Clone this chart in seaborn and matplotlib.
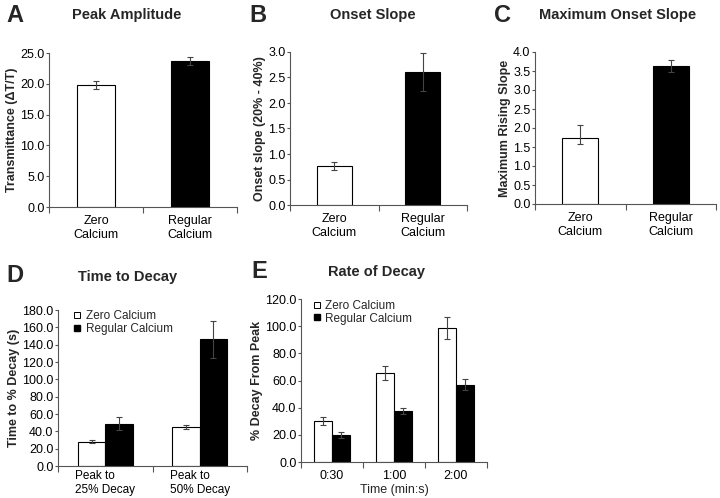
import matplotlib
matplotlib.use("Agg")
import matplotlib.pyplot as plt
from matplotlib.lines import Line2D
from matplotlib.ticker import FormatStrFormatter, FixedLocator
import numpy as np
import pandas as pd
import seaborn as sns

# --- data ---
groups = ["Zero\nCalcium", "Regular\nCalcium"]
series = ["Zero Calcium", "Regular Calcium"]

peak_amp = [19.8, 23.7]
peak_amp_err = [0.7, 0.7]

onset_slope = [0.76, 2.61]
onset_slope_err = [0.08, 0.38]

max_slope = [1.73, 3.63]
max_slope_err_lo = [0.16, 0.15]
max_slope_err_hi = [0.36, 0.15]

decay_cats = ["Peak to\n25% Decay", "Peak to\n50% Decay"]
decay_zero = [28.0, 45.0]
decay_zero_err = [1.8, 2.8]
decay_reg = [48.5, 146.0]
decay_reg_err = [7.5, 21.0]

rate_cats = ["0:30", "1:00", "2:00"]
rate_zero = [30.0, 65.5, 98.5]
rate_zero_err = [3.0, 5.0, 8.0]
rate_reg = [20.0, 37.5, 57.0]
rate_reg_err = [2.0, 2.5, 4.0]

sns.set_style("ticks")
plt.rcParams["font.family"] = ["Liberation Sans", "DejaVu Sans"]
plt.rcParams["axes.edgecolor"] = "#555555"
plt.rcParams["xtick.color"] = "#555555"
plt.rcParams["ytick.color"] = "#555555"
plt.rcParams["xtick.labelcolor"] = "black"
plt.rcParams["ytick.labelcolor"] = "black"

fig = plt.figure(figsize=(7.2, 4.98), dpi=100)
W, H = 720.0, 498.0


def make_ax(x0, x1, ytop, ybot):
    return fig.add_axes([x0 / W, 1 - ybot / H, (x1 - x0) / W, (ybot - ytop) / H])


def style(ax, ncat, ymax, step, ylabel):
    ax.set_xlim(-0.5, ncat - 0.5)
    ax.set_ylim(0, ymax)
    ax.set_yticks(np.arange(0, ymax + step / 2, step))
    ax.yaxis.set_major_formatter(FormatStrFormatter("%.1f"))
    ax.xaxis.set_minor_locator(FixedLocator(np.arange(-0.5, ncat, 1.0)))
    ax.tick_params(axis="x", which="major", length=0, labelsize=9, pad=6)
    ax.tick_params(axis="x", which="minor", length=4, width=0.8)
    ax.tick_params(axis="y", length=2.5, width=0.8, labelsize=9, pad=0.8)
    ax.set_ylabel(ylabel, fontsize=9, fontweight="bold", labelpad=1.5)
    ax.set_xlabel("")
    for s in ("top", "right"):
        ax.spines[s].set_visible(False)
    for s in ("left", "bottom"):
        ax.spines[s].set_linewidth(0.8)


def add_err(ax, container, lo, hi):
    xs = [b.get_x() + b.get_width() / 2 for b in container]
    ys = [b.get_height() for b in container]
    ax.errorbar(xs, ys, yerr=[lo, hi], fmt="none", ecolor="#444444",
                elinewidth=0.8, capsize=2.5, capthick=0.8, zorder=3)


def single(ax, vals, lo, hi):
    df = pd.DataFrame({"group": groups, "value": vals})
    sns.barplot(data=df, x="group", y="value", hue="group",
                palette=["white", "black"], edgecolor="black", linewidth=0.8,
                width=0.4, errorbar=None, legend=False, ax=ax)
    for c, l, h in zip(ax.containers, lo, hi):
        add_err(ax, c, [l], [h])


def grouped(ax, cats, zero, zero_err, reg, reg_err, anchor):
    df = pd.DataFrame({
        "cat": cats * 2,
        "series": [series[0]] * len(cats) + [series[1]] * len(cats),
        "value": zero + reg,
    })
    sns.barplot(data=df, x="cat", y="value", hue="series",
                palette={series[0]: "white", series[1]: "black"},
                edgecolor="black", linewidth=0.8, width=0.58, dodge=True,
                errorbar=None, legend=False, ax=ax)
    add_err(ax, ax.containers[0], zero_err, zero_err)
    add_err(ax, ax.containers[1], reg_err, reg_err)
    handles = [
        Line2D([], [], ls="", marker="s", markersize=4, markerfacecolor="white",
               markeredgecolor="black", markeredgewidth=0.7, label=series[0]),
        Line2D([], [], ls="", marker="s", markersize=4, markerfacecolor="black",
               markeredgecolor="black", label=series[1]),
    ]
    ax.legend(handles=handles, loc="upper left", bbox_to_anchor=anchor,
              frameon=False, fontsize=8.5, handlelength=0.6, handletextpad=0.4,
              labelspacing=0.05, borderpad=0.2)


# A
axA = make_ax(49, 237, 53, 207)
single(axA, peak_amp, peak_amp_err, peak_amp_err)
style(axA, 2, 25, 5, "Transmittance (\u0394T/T)")

# B
axB = make_ax(290, 467, 52, 205)
single(axB, onset_slope, onset_slope_err, onset_slope_err)
style(axB, 2, 3.0, 0.5, "Onset slope (20% - 40%)")

# C
axC = make_ax(535, 716, 52, 204)
single(axC, max_slope, max_slope_err_lo, max_slope_err_hi)
style(axC, 2, 4.0, 0.5, "Maximum Rising Slope")

# D
axD = make_ax(58, 247, 310, 466)
grouped(axD, decay_cats, decay_zero, decay_zero_err, decay_reg, decay_reg_err,
        (0.04, 1.05))
style(axD, 2, 180, 20, "Time to % Decay (s)")
for lab in axD.get_xticklabels():
    lab.set_multialignment("left")
    lab.set_fontsize(8.5)
axD.tick_params(axis="x", which="major", pad=3)

# E
axE = make_ax(301, 487, 299, 462)
grouped(axE, rate_cats, rate_zero, rate_zero_err, rate_reg, rate_reg_err,
        (0.02, 1.045))
style(axE, 3, 120, 20, "% Decay From Peak")
axE.set_xlabel("Time (min:s)", fontsize=9, labelpad=1)

# titles and panel letters
titles = [
    ("A", 6, 15, "Peak Amplitude", 127, 15),
    ("B", 249, 15, "Onset Slope", 373, 15),
    ("C", 494, 15, "Maximum Onset Slope", 618, 15),
    ("D", 6, 276, "Time to Decay", 128, 277),
    ("E", 251, 272, "Rate of Decay", 377, 272),
]
for letter, lx, ly, title, tx, ty in titles:
    fig.text(lx / W, 1 - ly / H, letter, fontsize=17, fontweight="bold",
             ha="left", va="center")
    fig.text(tx / W, 1 - ty / H, title, fontsize=10.5, fontweight="bold",
             ha="center", va="center")

fig.savefig("out.png", dpi=100)
